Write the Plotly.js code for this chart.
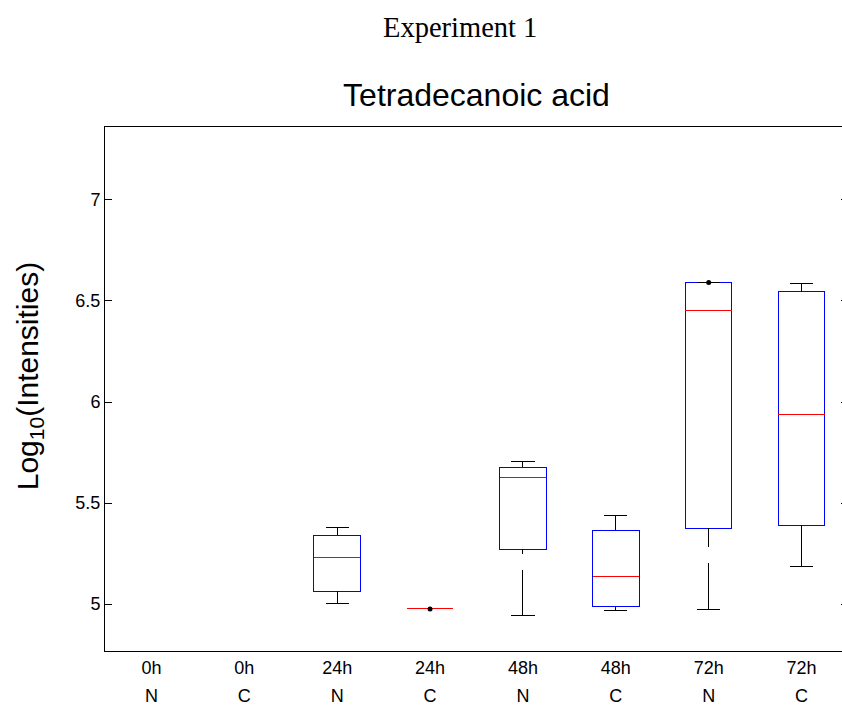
<!DOCTYPE html>
<html>
<head>
<meta charset="utf-8">
<script src="https://cdn.plot.ly/plotly-3.0.1.min.js"></script>
<style>
html, body { margin: 0; padding: 0; overflow: hidden; background: #fff; }
#chart { width: 850px; height: 709px; }
#chart path.box, #chart path.js-line { shape-rendering: crispEdges; }
</style>
</head>
<body>
<div id="chart"></div>
<script>
// Category labels (two rows)
const timeLabels = ["0h", "0h", "24h", "24h", "48h", "48h", "72h", "72h"];
const groupLabels = ["N", "C", "N", "C", "N", "C", "N", "C"];

// Groups that have data (index into the categories above)
const boxPos     = [2, 3, 4, 5, 6, 7];
const lowerWhisk = [5.003, 4.978, 4.943, 4.967, 4.975, 5.188];
const q1Vals     = [5.063, 4.978, 5.272, 4.986, 5.376, 5.390];
const medianVals = [5.232, 4.978, 5.627, 5.139, 6.452, 5.940];
const q3Vals     = [5.340, 4.978, 5.677, 5.365, 6.594, 6.546];
const upperWhisk = [5.381, 4.978, 5.704, 5.441, 6.594, 6.589];

// Extra points drawn as dots
const dotPos  = [3, 6];
const dotVals = [4.976, 6.592];

const yTicks = [5, 5.5, 6, 6.5, 7];
const yTickText = ["5", "5.5", "6", "6.5", "7"];

const BOX_W = 0.5;
const CAP_W = 0.25;

// whiskers: from whisker end toward box edge
const wx = [], wy = [];
const cx = [], cy = [];
const mx = [], my = [];
boxPos.forEach((p, i) => {
  if (lowerWhisk[i] < q1Vals[i]) { wx.push(p, p, null); wy.push(lowerWhisk[i], q1Vals[i], null); }
  if (upperWhisk[i] > q3Vals[i]) { wx.push(p, p, null); wy.push(upperWhisk[i], q3Vals[i], null); }
  cx.push(p - CAP_W / 2, p + CAP_W / 2, null); cy.push(lowerWhisk[i], lowerWhisk[i], null);
  cx.push(p - CAP_W / 2, p + CAP_W / 2, null); cy.push(upperWhisk[i], upperWhisk[i], null);
  mx.push(p - BOX_W / 2, p + BOX_W / 2, null); my.push(medianVals[i], medianVals[i], null);
});

const FONT = "Liberation Sans, Arial, Helvetica, sans-serif";

const traces = [
  {
    type: "scatter", mode: "lines", x: wx, y: wy, xaxis: "x", yaxis: "y",
    line: { color: "#000", width: 1, dash: "46px,16px" }, hoverinfo: "skip", showlegend: false
  },
  {
    type: "scatter", mode: "lines", x: cx, y: cy,
    line: { color: "#000", width: 1 }, hoverinfo: "skip", showlegend: false
  },
  {
    type: "box", x: boxPos, q1: q1Vals, median: medianVals, q3: q3Vals,
    lowerfence: q1Vals, upperfence: q3Vals, width: BOX_W, whiskerwidth: 0,
    boxpoints: false, line: { color: "#0000ff", width: 1 }, fillcolor: "rgba(0,0,0,0)",
    showlegend: false, hoverinfo: "skip"
  },
  {
    type: "scatter", mode: "lines", x: mx, y: my,
    line: { color: "#ff0000", width: 1 }, hoverinfo: "skip", showlegend: false
  },
  {
    type: "scatter", mode: "markers", x: dotPos, y: dotVals,
    marker: { color: "#000", size: 5 }, hoverinfo: "skip", showlegend: false
  },
  {
    type: "scatter", mode: "markers", x: [0], y: [6], xaxis: "x2", yaxis: "y",
    marker: { opacity: 0 }, hoverinfo: "skip", showlegend: false
  }
];

const layout = {
  width: 850, height: 709,
  margin: { l: 105, r: 2, t: 126.5, b: 58 },
  paper_bgcolor: "#fff", plot_bgcolor: "#fff",
  font: { family: FONT, color: "#000" },
  showlegend: false,
  title: {
    text: "Tetradecanoic acid",
    font: { family: FONT, size: 32, color: "#000" },
    x: 0.5, xref: "paper", xanchor: "center",
    y: 1 - 95 / 709, yref: "container", yanchor: "middle"
  },
  xaxis: {
    range: [-0.5, 7.5], tickmode: "array",
    tickvals: [0, 1, 2, 3, 4, 5, 6, 7], ticktext: timeLabels,
    ticks: "", showline: true, linecolor: "#000", linewidth: 1, mirror: true,
    showgrid: false, zeroline: false,
    tickfont: { family: FONT, size: 18, color: "#000" }
  },
  xaxis2: {
    overlaying: "x", anchor: "y", side: "bottom", matches: "x",
    range: [-0.5, 7.5], tickmode: "array",
    tickvals: [0, 1, 2, 3, 4, 5, 6, 7], ticktext: groupLabels,
    ticks: "", showline: false, showgrid: false, zeroline: false,
    ticklabelstandoff: 32,
    tickfont: { family: FONT, size: 18, color: "#000" }
  },
  yaxis: {
    range: [4.768, 7.361], tickmode: "array",
    tickvals: yTicks, ticktext: yTickText,
    ticks: "inside", ticklen: 7, tickcolor: "#000", tickwidth: 1,
    showline: true, linecolor: "#000", linewidth: 1, mirror: "ticks",
    showgrid: false, zeroline: false,
    tickfont: { family: FONT, size: 18, color: "#000" }
  },
  annotations: [
    {
      text: "Experiment 1", showarrow: false,
      xref: "paper", yref: "paper",
      x: (460 - 105) / 743, y: (651 - 27) / 524.5,
      xanchor: "center", yanchor: "middle",
      font: { family: "Liberation Serif, Times New Roman, serif", size: 28.5, color: "#000" }
    },
    {
      text: "Log<sub>10</sub>(Intensities)", showarrow: false, textangle: -90,
      xref: "paper", yref: "paper",
      x: (29 - 105) / 743, y: (651 - 376) / 524.5,
      xanchor: "center", yanchor: "middle",
      font: { family: FONT, size: 30, color: "#000" }
    }
  ]
};

Plotly.newPlot("chart", traces, layout, { staticPlot: true, displayModeBar: false });
</script>
</body>
</html>
